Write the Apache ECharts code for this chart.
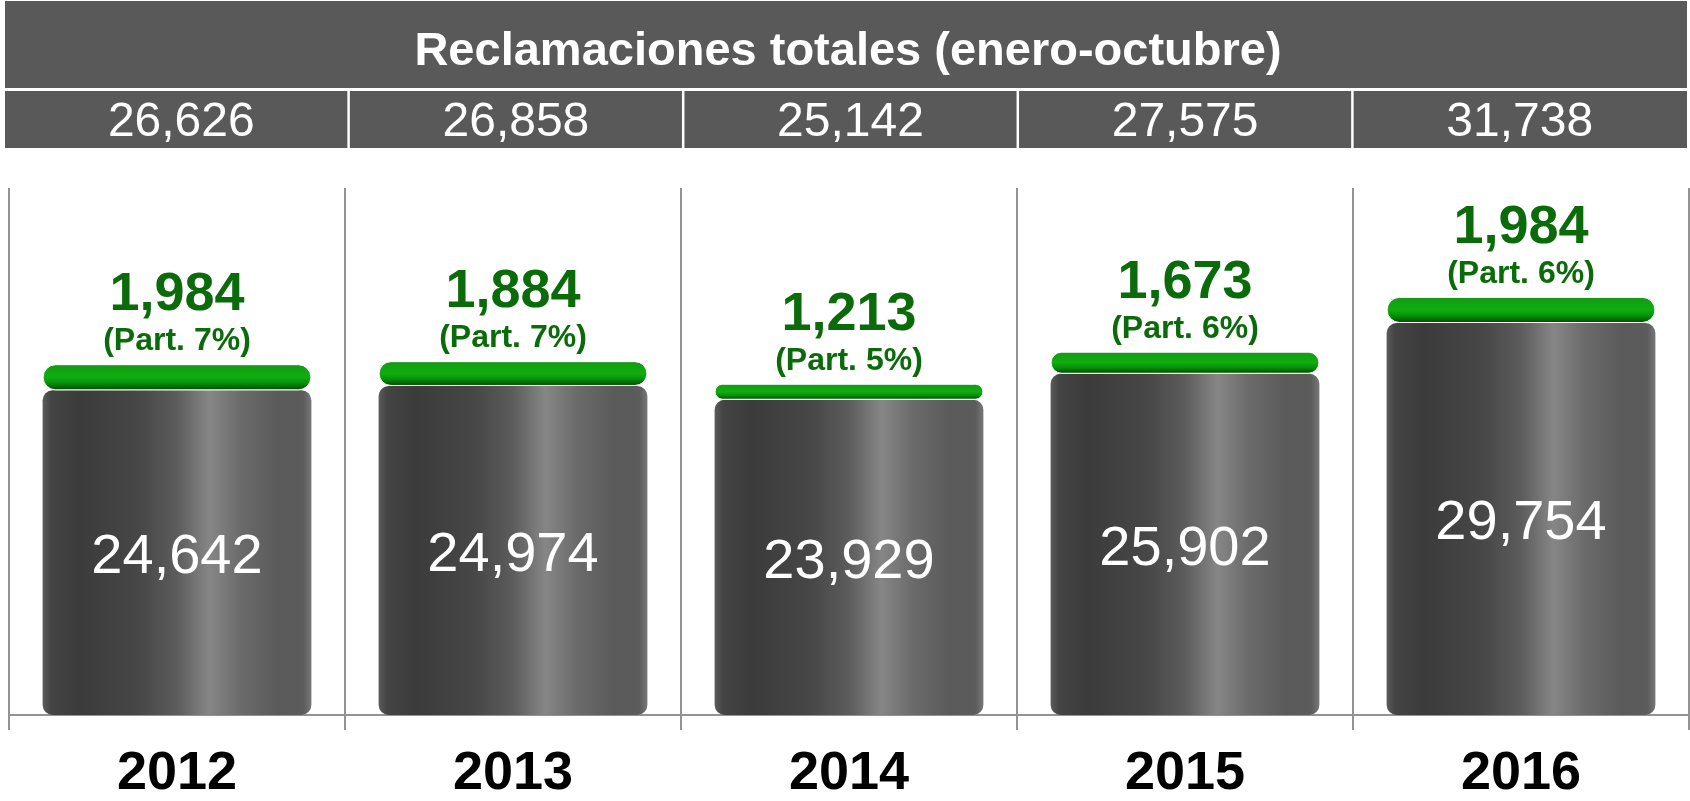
<!DOCTYPE html>
<html lang="es">
<head>
<meta charset="UTF-8">
<title>Reclamaciones totales</title>
<script src="https://cdn.jsdelivr.net/npm/echarts@6/dist/echarts.min.js"></script>
<style>
  html, body { margin: 0; padding: 0; background: #fff; }
  #container { width: 1690px; height: 801px; }
</style>
</head>
<body>
<div id="container"></div>
<script>
  var years = ['2012', '2013', '2014', '2015', '2016'];
  var totals = [26626, 26858, 25142, 27575, 31738];
  var baseValues = [24642, 24974, 23929, 25902, 29754];
  var greenValues = [1984, 1884, 1213, 1673, 1984];
  var greenShare = ['7%', '7%', '5%', '6%', '6%'];

  var font = '"Liberation Sans", Arial, sans-serif';

  function fmt(n) {
    return String(n).replace(/\B(?=(\d{3})+(?!\d))/g, ',');
  }

  var myChart = echarts.init(document.getElementById('container'));

  var option = {
    backgroundColor: '#fff',
    animation: false,
    // title band + totals row background
    graphic: [{
      type: 'rect',
      shape: { x: 5, y: 1, width: 1682, height: 87 },
      style: { fill: '#595959' },
      z: -1
    }, {
      type: 'rect',
      shape: { x: 5, y: 91, width: 1682, height: 57 },
      style: { fill: '#595959' },
      z: -1
    }],
    title: {
      text: 'Reclamaciones totales (enero-octubre)',
      left: 848,
      top: 52,
      textAlign: 'center',
      textVerticalAlign: 'middle',
      padding: 0,
      textStyle: { color: '#fff', fontSize: 47, fontWeight: 'bold', fontFamily: font }
    },
    grid: [
      { left: 9, right: 1, top: 188, bottom: 84 },
      { left: 14, right: 3, top: 91, height: 57 }
    ],
    xAxis: [{
      gridIndex: 0,
      type: 'category',
      data: years,
      axisLine: { lineStyle: { color: '#939393', width: 2 } },
      axisTick: { show: true, length: 15, lineStyle: { color: '#939393', width: 2 } },
      axisLabel: { color: '#000', fontSize: 54, fontWeight: 'bold', fontFamily: font, margin: 32 },
      splitLine: { show: true, lineStyle: { color: '#939393', width: 2 } }
    }, {
      gridIndex: 1,
      type: 'category',
      data: years,
      show: false
    }],
    yAxis: [{
      gridIndex: 0,
      type: 'value',
      min: 0,
      max: 40000,
      show: false,
      splitLine: { show: false }
    }, {
      gridIndex: 1,
      type: 'value',
      min: 0,
      max: 1,
      show: false
    }],
    series: [{
      name: 'base',
      type: 'bar',
      stack: 'total',
      barWidth: '80%',
      data: baseValues,
      itemStyle: {
        borderRadius: 10,
        color: new echarts.graphic.LinearGradient(0, 0, 1, 0, [
          { offset: 0, color: '#5c5c5c' },
          { offset: 0.03, color: '#444444' },
          { offset: 0.14, color: '#3b3b3b' },
          { offset: 0.36, color: '#474747' },
          { offset: 0.5, color: '#5c5c5c' },
          { offset: 0.62, color: '#868686' },
          { offset: 0.74, color: '#6a6a6a' },
          { offset: 0.88, color: '#5a5a5a' },
          { offset: 0.97, color: '#5c5c5c' },
          { offset: 1, color: '#787878' }
        ])
      },
      label: {
        show: true,
        position: 'inside',
        offset: [0, 5],
        color: '#fff',
        fontSize: 56,
        fontFamily: font,
        formatter: function (p) { return fmt(p.value); }
      }
    }, {
      name: 'green',
      type: 'bar',
      stack: 'total',
      barWidth: '80%',
      data: greenValues,
      itemStyle: {
        borderRadius: 14,
        borderColor: '#fff',
        borderWidth: 1,
        color: new echarts.graphic.LinearGradient(0, 0, 0, 1, [
          { offset: 0, color: '#1a941a' },
          { offset: 0.3, color: '#0ea80e' },
          { offset: 0.5, color: '#10ad10' },
          { offset: 0.72, color: '#08900a' },
          { offset: 0.88, color: '#056405' },
          { offset: 1, color: '#024202' }
        ])
      },
      label: {
        show: true,
        position: 'top',
        distance: 5,
        formatter: function (p) {
          return '{v|' + fmt(p.value) + '}\n{p|(Part. ' + greenShare[p.dataIndex] + ')}';
        },
        rich: {
          v: { color: '#0b6b0b', fontSize: 54, fontWeight: 'bold', fontFamily: font, lineHeight: 56 },
          p: { color: '#0b6b0b', fontSize: 32, fontWeight: 'bold', fontFamily: font, lineHeight: 36 }
        }
      }
    }, {
      name: 'totals',
      type: 'custom',
      xAxisIndex: 1,
      yAxisIndex: 1,
      data: totals.map(function (v, i) { return [i, v]; }),
      renderItem: function (params, api) {
        var cs = params.coordSys;
        var x = api.coord([api.value(0), 0])[0];
        var w = api.size([1, 0])[0];
        var children = [{
          type: 'text',
          style: {
            text: fmt(api.value(1)),
            x: x,
            y: cs.y + cs.height / 2 + 3,
            align: 'center',
            verticalAlign: 'middle',
            fill: '#fff',
            font: '48px ' + font
          }
        }];
        if (params.dataIndex > 0) {
          children.push({
            type: 'line',
            shape: { x1: x - w / 2, y1: cs.y, x2: x - w / 2, y2: cs.y + cs.height },
            style: { stroke: '#fff', lineWidth: 2.5 }
          });
        }
        return { type: 'group', children: children };
      }
    }]
  };

  myChart.setOption(option, true);
</script>
</body>
</html>
